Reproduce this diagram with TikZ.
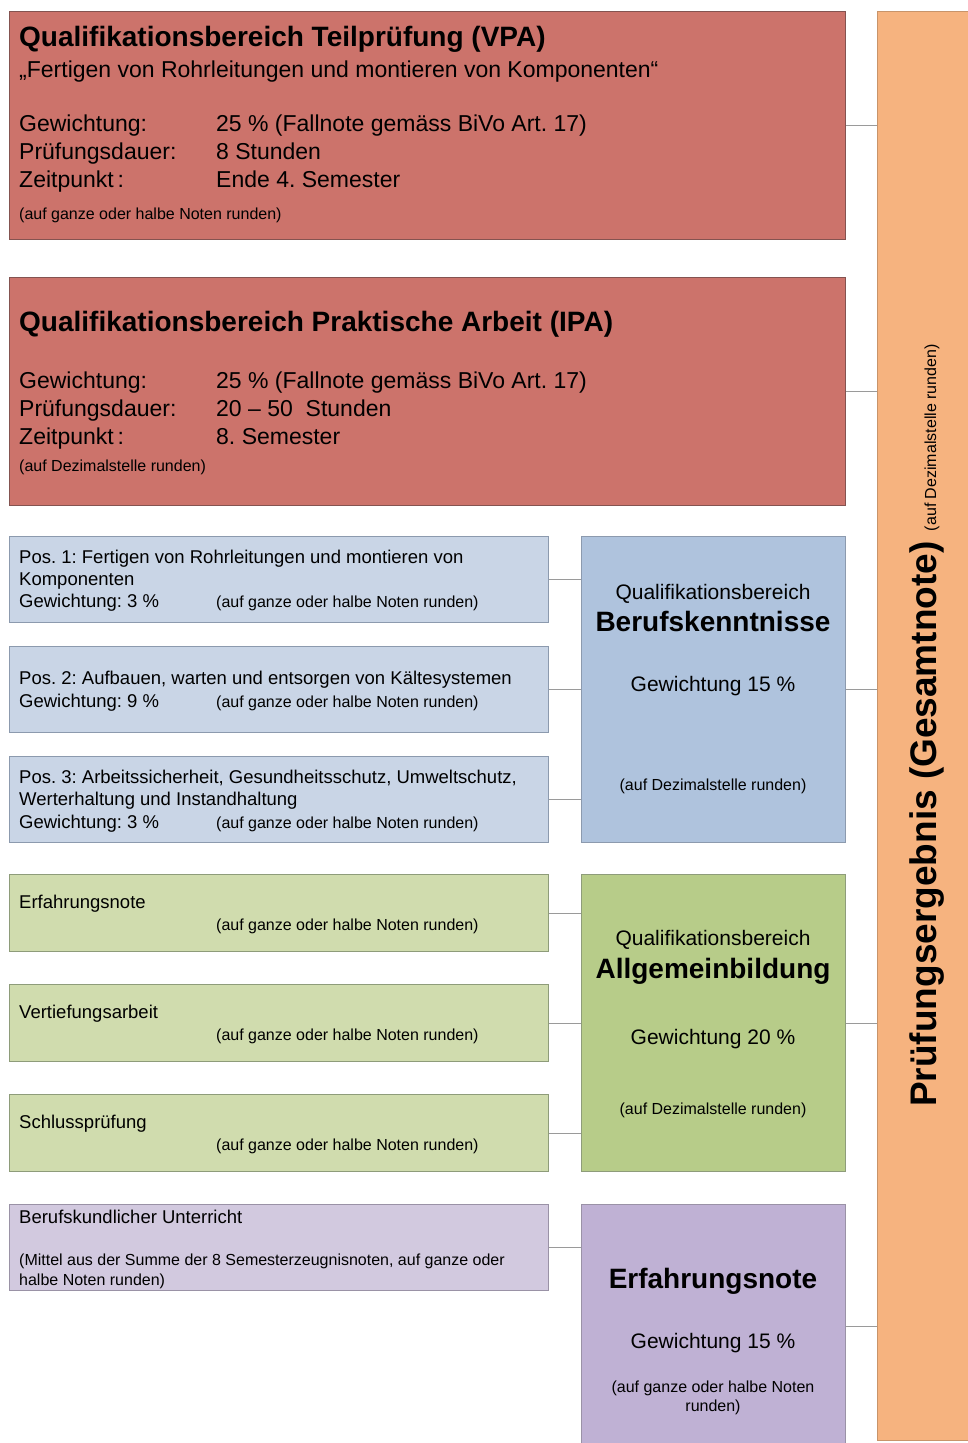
\documentclass[tikz,border=0pt]{standalone}
\usepackage{fontspec}
\setmainfont{Liberation Sans}
\frenchspacing
\definecolor{redf}{HTML}{CC736B}
\definecolor{redd}{HTML}{845350}
\definecolor{orangef}{HTML}{F6B37F}
\definecolor{oranged}{HTML}{C8946A}
\definecolor{bluel}{HTML}{C9D5E6}
\definecolor{blued}{HTML}{AFC3DD}
\definecolor{blueb}{HTML}{8C9AAE}
\definecolor{greenl}{HTML}{D0DCAE}
\definecolor{greend}{HTML}{B7CC89}
\definecolor{greenb}{HTML}{8E9C7A}
\definecolor{purplel}{HTML}{D2C9DF}
\definecolor{purpled}{HTML}{BFB1D4}
\definecolor{purpleb}{HTML}{9A92A6}
\definecolor{linec}{HTML}{9A9A9A}
\newcommand\fsT{\fontsize{28}{32}\selectfont\bfseries}
\newcommand\fsB{\fontsize{23}{28}\selectfont}
\newcommand\fsS{\fontsize{16}{20}\selectfont}
\newcommand\fsM{\fontsize{18.5}{22}\selectfont}
\newcommand\fsQ{\fontsize{21}{25}\selectfont}
\begin{document}
\begin{tikzpicture}[x=1pt,y=-1pt,
  box/.style={draw, line width=1.2pt, rectangle, inner sep=0pt, anchor=north west},
  redbox/.style={box, fill=redf, draw=redd, minimum width=836pt, minimum height=228pt},
  smallbox/.style={box, minimum width=539pt, minimum height=86pt},
  bigbox/.style={box, minimum width=264pt},
  txt/.style={inner sep=0pt, anchor=base west},
  ctxt/.style={inner sep=0pt, anchor=base},
  conn/.style={draw=linec, line width=1.2pt}]
\fill[white] (0,0) rectangle (968,1443);
\useasboundingbox (0,0) rectangle (968,1443);

% Gesamtnote column
\node[box, fill=orangef, draw=oranged, minimum width=94pt, minimum height=1429pt] (ges) at (877,11) {};
\node[ctxt, rotate=90] (gesT) at (936,725.5) {{\fontsize{37}{40}\selectfont\bfseries Prüfungsergebnis (Gesamtnote)\ }{\fsS (auf Dezimalstelle runden)}};

% VPA
\node[redbox] (vpa) at (9,11) {};
\node[txt] (vpaT) at (19,46.5) {\fsT Qualifikationsbereich Teilprüfung (VPA)};
\node[txt] (vpaS) at (19,77) {\fsB „Fertigen von Rohrleitungen und montieren von Komponenten“};
\node[txt] (vpaG1) at (19,131) {\fsB Gewichtung:};
\node[txt] (vpaG2) at (216,131) {\fsB 25 \% (Fallnote gemäss BiVo Art. 17)};
\node[txt] (vpaP1) at (19,159) {\fsB Prüfungsdauer:};
\node[txt] (vpaP2) at (216,159) {\fsB 8 Stunden};
\node[txt] (vpaZ1) at (19,187) {\fsB Zeitpunkt\,:};
\node[txt] (vpaZ2) at (216,187) {\fsB Ende 4. Semester};
\node[txt] (vpaR) at (19,219) {\fsS (auf ganze oder halbe Noten runden)};

% IPA
\node[redbox] (ipa) at (9,277) {};
\node[txt] (ipaT) at (19,331) {\fsT Qualifikationsbereich Praktische Arbeit (IPA)};
\node[txt] (ipaG1) at (19,388) {\fsB Gewichtung:};
\node[txt] (ipaG2) at (216,388) {\fsB 25 \% (Fallnote gemäss BiVo Art. 17)};
\node[txt] (ipaP1) at (19,416) {\fsB Prüfungsdauer:};
\node[txt] (ipaP2) at (216,416) {\fsB 20 – 50\ \ Stunden};
\node[txt] (ipaZ1) at (19,444) {\fsB Zeitpunkt\,:};
\node[txt] (ipaZ2) at (216,444) {\fsB 8. Semester};
\node[txt] (ipaR) at (19,471) {\fsS (auf Dezimalstelle runden)};

% Berufskenntnisse
\node[smallbox, fill=bluel, draw=blueb] (b1) at (9,536) {};
\node[smallbox, fill=bluel, draw=blueb] (b2) at (9,646) {};
\node[smallbox, fill=bluel, draw=blueb] (b3) at (9,756) {};
\node[bigbox, fill=blued, draw=blueb, minimum height=306pt] (bb) at (581,536) {};
\node[txt] (b1a) at (19,563) {\fsM Pos. 1: Fertigen von Rohrleitungen und montieren von};
\node[txt] (b1b) at (19,585) {\fsM Komponenten};
\node[txt] (b1c) at (19,607) {\fsM Gewichtung: 3 \%};
\node[txt] (b1d) at (216,607) {\fsS (auf ganze oder halbe Noten runden)};
\node[txt] (b2a) at (19,684) {\fsM Pos. 2: Aufbauen, warten und entsorgen von Kältesystemen};
\node[txt] (b2c) at (19,707) {\fsM Gewichtung: 9 \%};
\node[txt] (b2d) at (216,707) {\fsS (auf ganze oder halbe Noten runden)};
\node[txt] (b3a) at (19,783) {\fsM Pos. 3: Arbeitssicherheit, Gesundheitsschutz, Umweltschutz,};
\node[txt] (b3b) at (19,805) {\fsM Werterhaltung und Instandhaltung};
\node[txt] (b3c) at (19,828) {\fsM Gewichtung: 3 \%};
\node[txt] (b3d) at (216,828) {\fsS (auf ganze oder halbe Noten runden)};
\node[ctxt] (bbA) at (713,599.5) {\fsQ Qualifikationsbereich};
\node[ctxt] (bbB) at (713,631) {\fsT Berufskenntnisse};
\node[ctxt] (bbC) at (713,691.5) {\fsQ Gewichtung 15 \%};
\node[ctxt] (bbD) at (713,790) {\fsS (auf Dezimalstelle runden)};

% Allgemeinbildung
\node[smallbox, fill=greenl, draw=greenb, minimum height=77pt] (g1) at (9,874) {};
\node[smallbox, fill=greenl, draw=greenb, minimum height=77pt] (g2) at (9,984) {};
\node[smallbox, fill=greenl, draw=greenb, minimum height=77pt] (g3) at (9,1094) {};
\node[bigbox, fill=greend, draw=greenb, minimum height=297pt] (gb) at (581,874) {};
\node[txt] (g1a) at (19,908) {\fsM Erfahrungsnote};
\node[txt] (g1d) at (216,930) {\fsS (auf ganze oder halbe Noten runden)};
\node[txt] (g2a) at (19,1018) {\fsM Vertiefungsarbeit};
\node[txt] (g2d) at (216,1040) {\fsS (auf ganze oder halbe Noten runden)};
\node[txt] (g3a) at (19,1128) {\fsM Schlussprüfung};
\node[txt] (g3d) at (216,1150) {\fsS (auf ganze oder halbe Noten runden)};
\node[ctxt] (gbA) at (713,945.5) {\fsQ Qualifikationsbereich};
\node[ctxt] (gbB) at (713,978) {\fsT Allgemeinbildung};
\node[ctxt] (gbC) at (713,1044.5) {\fsQ Gewichtung 20 \%};
\node[ctxt] (gbD) at (713,1114) {\fsS (auf Dezimalstelle runden)};

% Erfahrungsnote
\node[smallbox, fill=purplel, draw=purpleb] (p1) at (9,1204) {};
\node[bigbox, fill=purpled, draw=purpleb, minimum height=244pt] (pb) at (581,1204) {};
\node[txt] (p1a) at (19,1223) {\fsM Berufskundlicher Unterricht};
\node[txt] (p1b) at (19,1265) {\fsS (Mittel aus der Summe der 8 Semesterzeugnisnoten, auf ganze oder};
\node[txt] (p1c) at (19,1285) {\fsS halbe Noten runden)};
\node[ctxt] (pbA) at (713,1288) {\fsT Erfahrungsnote};
\node[ctxt] (pbB) at (713,1348.5) {\fsQ Gewichtung 15 \%};
\node[ctxt] (pbC) at (713,1392) {\fsS (auf ganze oder halbe Noten};
\node[ctxt] (pbD) at (713,1411) {\fsS runden)};

% connectors
\draw[conn] (vpa.east) -- (vpa.east -| ges.west);
\draw[conn] (ipa.east) -- (ipa.east -| ges.west);
\draw[conn] (b1.east) -- (b1.east -| bb.west);
\draw[conn] (b2.east) -- (b2.east -| bb.west);
\draw[conn] (b3.east) -- (b3.east -| bb.west);
\draw[conn] (bb.east) -- (bb.east -| ges.west);
\draw[conn] (g1.east) -- (g1.east -| gb.west);
\draw[conn] (g2.east) -- (g2.east -| gb.west);
\draw[conn] (g3.east) -- (g3.east -| gb.west);
\draw[conn] (gb.east) -- (gb.east -| ges.west);
\draw[conn] (p1.east) -- (p1.east -| pb.west);
\draw[conn] (pb.east) -- (pb.east -| ges.west);
\end{tikzpicture}
\end{document}
